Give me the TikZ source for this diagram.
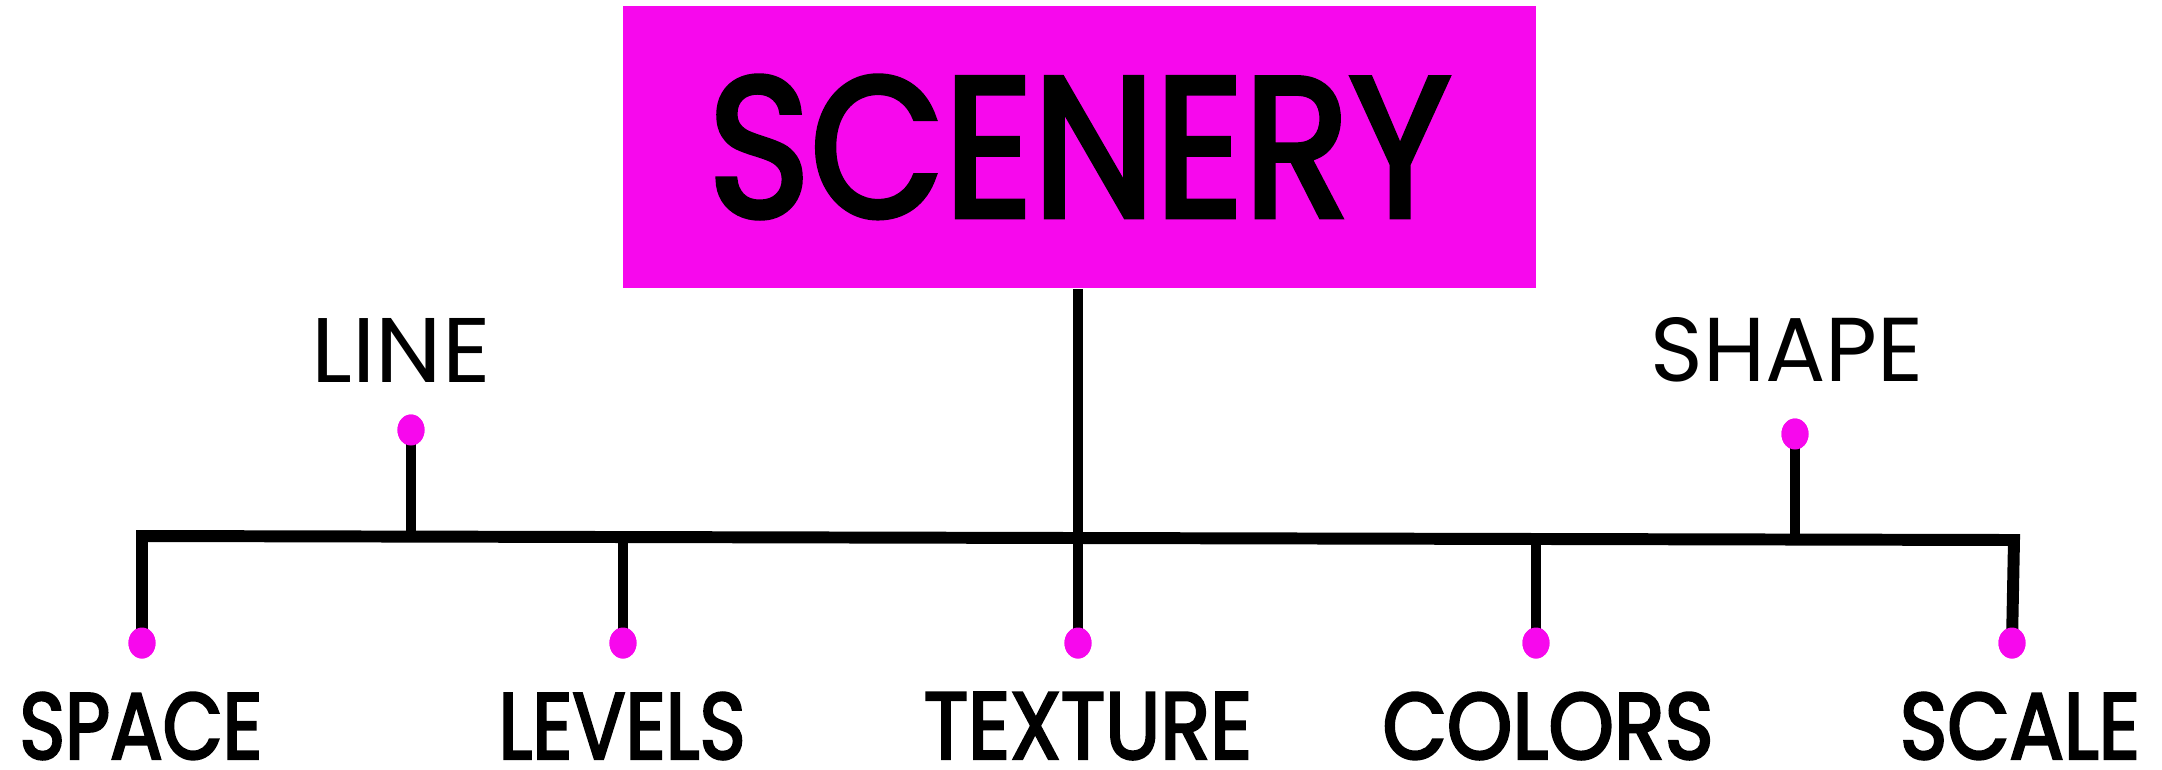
\documentclass[tikz,border=0pt]{standalone}
\usepackage{fontspec}
\setmainfont{Poppins}
\newfontfamily\medfont{Poppins}[FakeBold=3]
\usepackage{graphicx}
\usetikzlibrary{shapes.geometric}
\definecolor{mag}{RGB}{247,8,237}
\begin{document}
\begin{tikzpicture}[x=0.01cm,y=-0.01cm,
  lbl/.style={inner sep=0pt, anchor=center},
  dotnode/.style={shape=ellipse, fill=mag, draw=none, inner sep=0pt, minimum width=0.27cm, minimum height=0.31cm},
  wire/.style={line width=3pt, draw=black},
  barwire/.style={line width=3.4pt, draw=black, line join=miter},
  titlebox/.style={fill=mag, draw=none, inner sep=0pt, minimum width=9.13cm, minimum height=2.82cm}]
\useasboundingbox (0,0) rectangle (2162,769);
% title box
\node[titlebox] (scenery) at (1079.5,147) {\resizebox{7.42cm}{1.40cm}{\medfont SCENERY}};
% upper labels
\node[lbl] (line) at (401,350) {\resizebox{1.79cm}{0.64cm}{LINE}};
\node[lbl] (shape) at (1787,350) {\resizebox{2.73cm}{0.64cm}{SHAPE}};
% lower labels
\node[lbl] (space) at (141,726) {\resizebox{2.43cm}{0.66cm}{\medfont SPACE}};
\node[lbl] (levels) at (622,726) {\resizebox{2.47cm}{0.66cm}{\medfont LEVELS}};
\node[lbl] (texture) at (1088,726) {\resizebox{3.28cm}{0.66cm}{\medfont TEXTURE}};
\node[lbl] (colors) at (1548,726) {\resizebox{3.31cm}{0.66cm}{\medfont COLORS}};
\node[lbl] (scale) at (2020,726) {\resizebox{2.40cm}{0.66cm}{\medfont SCALE}};
% bar corners and junctions
\coordinate (barL) at (142,536);
\coordinate (barR) at (2014,540);
\coordinate (jLine) at (411,537);
\coordinate (jLev) at (623,537);
\coordinate (jTex) at (1078,538);
\coordinate (jCol) at (1536,539);
\coordinate (jShape) at (1795,539);
% dots
\node[dotnode] (dLine) at (411,430) {};
\node[dotnode] (dShape) at (1795,434) {};
\node[dotnode] (dSpace) at (142,643) {};
\node[dotnode] (dLev) at (623,643) {};
\node[dotnode] (dTex) at (1078,643) {};
\node[dotnode] (dCol) at (1536,643) {};
\node[dotnode] (dScale) at (2012,643) {};
% connectors
\draw[barwire] (dSpace.center) -- (barL) -- (barR) -- (dScale.center);
\draw[wire] (dLine.center) -- (jLine);
\draw[wire] (dShape.center) -- (jShape);
\draw[wire] (jLev) -- (dLev.center);
\draw[wire] (jCol) -- (dCol.center);
\draw[wire] (scenery.south -| dTex) -- (dTex.center);
% dots on top of the connectors
\foreach \d in {dLine,dShape,dSpace,dLev,dTex,dCol,dScale}{\fill[mag] (\d.center) ellipse [x radius=0.135cm, y radius=0.155cm];}
\end{tikzpicture}
\end{document}
